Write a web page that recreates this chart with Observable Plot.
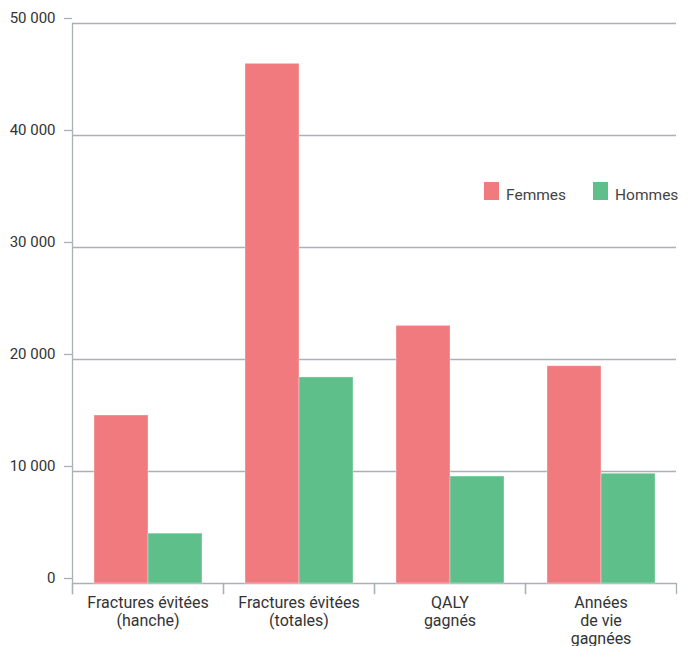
<!DOCTYPE html>
<html>
<head>
<meta charset="utf-8">
<script src="https://cdn.jsdelivr.net/npm/d3@7"></script>
<script src="https://cdn.jsdelivr.net/npm/@observablehq/plot@0.6"></script>
<style>
  html, body { margin: 0; padding: 0; background: #fff; }
  #wrap { position: relative; width: 690px; height: 646px; font-family: Roboto, "Liberation Sans", sans-serif; }
  #legend { position: absolute; left: 484px; top: 182px; display: flex; align-items: flex-start; font-size: 15.5px; color: #444; }
  #legend .sw { display: inline-block; width: 15px; height: 18px; margin-right: 7px; }
  #legend .item { display: inline-flex; align-items: flex-start; margin-right: 27px; }
  #legend .lbl { display: inline-block; line-height: 17px; margin-top: 5px; }
</style>
</head>
<body>
<div id="wrap"><div id="chart"></div><div id="legend"></div></div>
<script>
const categories = ["Fractures évitées\n(hanche)", "Fractures évitées\n(totales)", "QALY\ngagnés", "Années\nde vie\ngagnées"];
const series = ["Femmes", "Hommes"];
const femmes = [15000, 46400, 23000, 19400];
const hommes = [4450, 18400, 9550, 9800];
const yTicks = [0, 10000, 20000, 30000, 40000, 50000];
const colors = ["#f07a7e", "#5ebf8a"];

const data = [];
categories.forEach((c, i) => {
  data.push({cat: c, sex: series[0], value: femmes[i]});
  data.push({cat: c, sex: series[1], value: hommes[i]});
});

const fmt = d3.formatLocale({decimal: ",", thousands: " ", grouping: [3], currency: ["", ""]}).format(",");
const gridColor = "#aab1b3";
const W = 690, H = 646, mL = 72, mR = 14, mT = 23, mB = 63;
const plotH = H - mT - mB;

const chart = Plot.plot({
  width: W,
  height: H,
  marginLeft: mL,
  marginRight: mR,
  marginTop: mT,
  marginBottom: mB,
  style: {fontFamily: "Roboto, 'Liberation Sans', sans-serif", fontSize: "15px", color: "#3c3c3c", background: "#fff"},
  fx: {domain: categories, padding: 0, label: null},
  x: {domain: series, paddingInner: 0, paddingOuter: 0.373, axis: null},
  y: {domain: [0, 50000], label: null},
  color: {domain: series, range: colors},
  marks: [
    Plot.ruleY(yTicks, {stroke: gridColor, strokeWidth: 1.3}),
    Plot.axisY({ticks: yTicks, tickFormat: fmt, tickSize: 8, tickPadding: 9, stroke: gridColor, strokeWidth: 1.3, strokeOpacity: 1, label: null, dy: -5, fill: "#333", fontSize: 15}),
    Plot.frame({anchor: "left", insetTop: plotH, insetBottom: -10, stroke: gridColor, strokeWidth: 1.3, strokeOpacity: 1}),
    Plot.frame({anchor: "right", insetTop: plotH, insetBottom: -10, stroke: gridColor, strokeWidth: 1.3, strokeOpacity: 1}),
    Plot.frame({anchor: "left", facetAnchor: "left", insetBottom: -10, stroke: gridColor, strokeWidth: 1.3, strokeOpacity: 1}),
    Plot.barY(data, {fx: "cat", x: "sex", y: "value", fill: "sex", stroke: "#fff", strokeOpacity: 0.35, strokeWidth: 1}),
    Plot.axisFx({anchor: "bottom", tickSize: 0, tickPadding: 11, lineHeight: 1.15, label: null, fill: "#333", fontSize: 16})
  ]
});
document.getElementById("chart").appendChild(chart);

const legend = document.getElementById("legend");
series.forEach((s, i) => {
  const item = document.createElement("span");
  item.className = "item";
  const sw = document.createElement("span");
  sw.className = "sw";
  sw.style.background = colors[i];
  const lbl = document.createElement("span");
  lbl.className = "lbl";
  lbl.textContent = s;
  item.appendChild(sw);
  item.appendChild(lbl);
  legend.appendChild(item);
});
</script>
</body>
</html>
